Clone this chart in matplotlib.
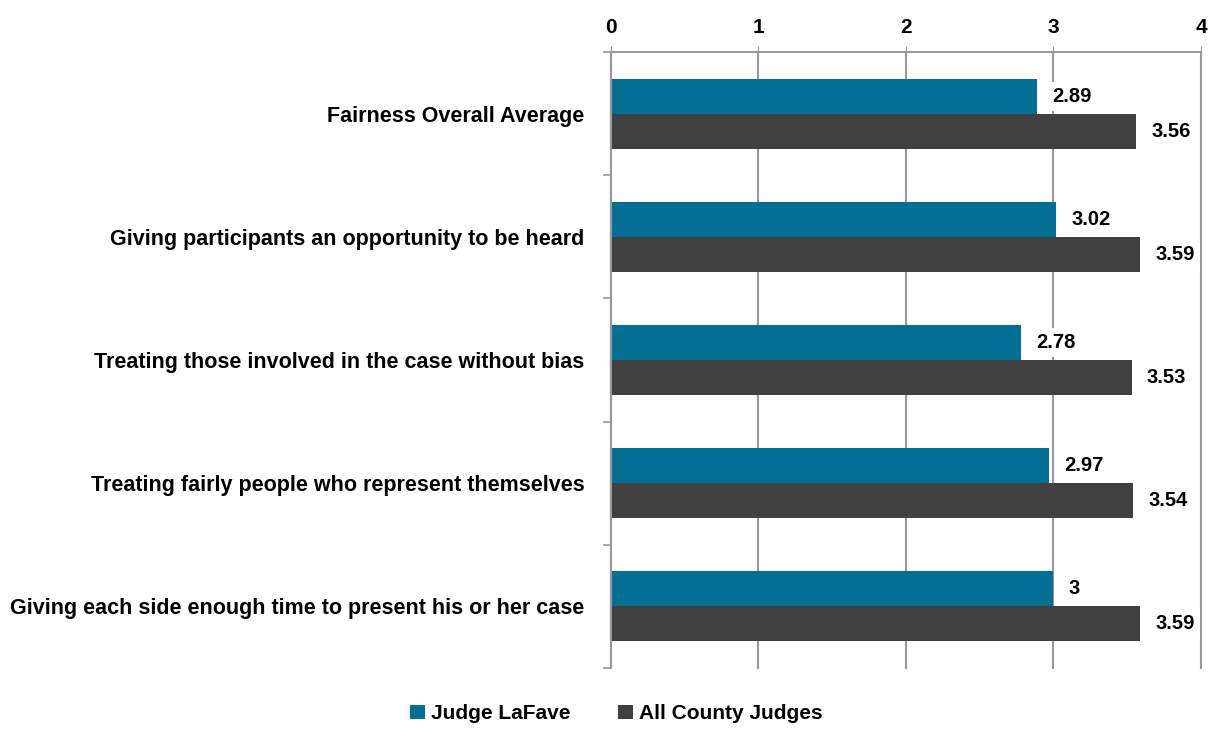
import numpy as np
import matplotlib.pyplot as plt
from matplotlib.font_manager import fontManager

names = {f.name for f in fontManager.ttflist}
fam = "Liberation Sans Narrow" if "Liberation Sans Narrow" in names else "Liberation Sans"
plt.rcParams['font.family'] = [fam, 'DejaVu Sans']
plt.rcParams['font.weight'] = 'bold'

categories = ["Fairness Overall Average",
              "Giving participants an opportunity to be heard",
              "Treating those involved in the case without bias",
              "Treating fairly people who represent themselves",
              "Giving each side enough time to present his or her case"]
lafave = [2.89, 3.02, 2.78, 2.97, 3]
county = [3.56, 3.59, 3.53, 3.54, 3.59]
labels_lafave = ["2.89", "3.02", "2.78", "2.97", "3"]
labels_county = ["3.56", "3.59", "3.53", "3.54", "3.59"]

blue = "#036F95"
grey = "#404040"
axcol = "#999999"

fig = plt.figure(figsize=(12.11, 7.36), dpi=100)
ax = fig.add_axes([0.5045, 0.0924, 0.4872, 0.8369])

y = np.arange(len(categories))
h = 0.284
ax.barh(y - h / 2, lafave, height=h, color=blue, label="Judge LaFave", zorder=2)
ax.barh(y + h / 2, county, height=h, color=grey, label="All County Judges", zorder=2)

for i in range(len(categories)):
    ax.annotate(labels_lafave[i], (lafave[i], y[i] - h / 2), xytext=(11, 0),
                textcoords="offset points", va="center", ha="left", fontsize=14.5,
                fontweight="bold", zorder=3,
                bbox=dict(boxstyle="square,pad=0.25", fc="white", ec="none"))
    ax.annotate(labels_county[i], (county[i], y[i] + h / 2), xytext=(11, 0),
                textcoords="offset points", va="center", ha="left", fontsize=14.5,
                fontweight="bold", zorder=3,
                bbox=dict(boxstyle="square,pad=0.25", fc="white", ec="none"))

ax.set_xlim(0, 4)
ax.set_ylim(len(categories) - 0.5, -0.5)
ax.xaxis.tick_top()
ax.set_xticks([0, 1, 2, 3, 4])
ax.tick_params(axis='x', direction='inout', length=8, color=axcol, labelsize=15, pad=7)
ax.grid(axis='x', color=axcol, linewidth=1.5, zorder=0)
for gl in ax.get_xgridlines():
    gl.set_clip_on(False)

ax.set_yticks(y)
ax.set_yticklabels(categories, fontsize=15.5, fontweight="bold")
ax.tick_params(axis='y', length=0, pad=19)
ax.set_yticks(np.arange(len(categories) + 1) - 0.5, minor=True)
ax.tick_params(axis='y', which='minor', length=6, color=axcol, width=1.2)

for s in ['right', 'bottom']:
    ax.spines[s].set_visible(False)
for s in ['top', 'left']:
    ax.spines[s].set_color(axcol)
    ax.spines[s].set_linewidth(1.5)

fig.legend(loc="lower center", bbox_to_anchor=(0.509, -0.008), ncol=2, frameon=False,
           fontsize=15, handlelength=0.7, handleheight=0.7, handletextpad=0.3,
           columnspacing=2.3)

fig.savefig("out.png", dpi=100)
